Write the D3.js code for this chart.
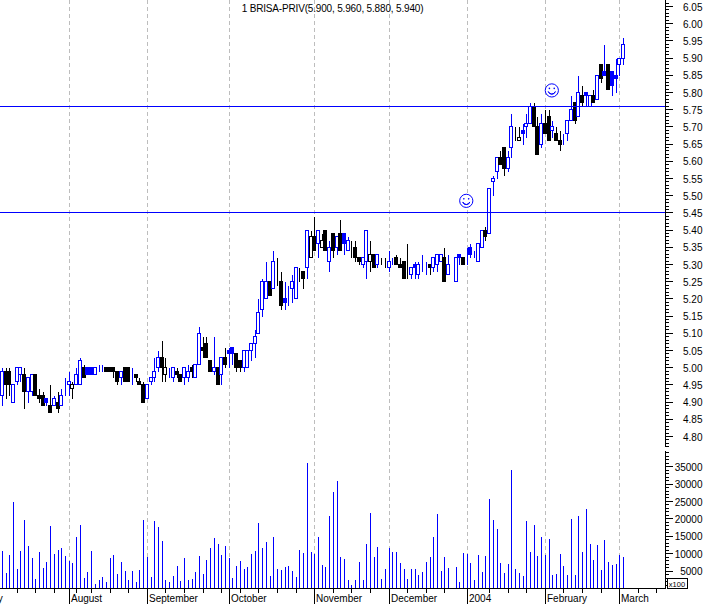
<!DOCTYPE html>
<html>
<head>
<meta charset="utf-8">
<style>
html,body{margin:0;padding:0;background:#fff;overflow:hidden}
svg{display:block}
text{font-family:"Liberation Sans",Arial,sans-serif;font-size:10px;fill:#000}
</style>
<script src="https://cdn.jsdelivr.net/npm/d3@7/dist/d3.min.js"></script>
</head>
<body>
<script>
const titleText = "1 BRISA-PRIV(5.900, 5.960, 5.880, 5.940)";
const opens = [4.92,4.99,4.99,4.90,4.96,4.98,4.98,4.93,4.93,4.98,4.92,4.92,4.91,4.89,4.89,4.90,4.89,4.94,4.95,4.94,
4.95,4.95,5.00,5.00,5.00,4.98,5.00,5.00,5.00,5.00,5.00,4.99,4.97,5.00,5.00,4.98,4.98,4.96,4.95,4.91,
4.96,4.97,5.00,5.03,4.98,4.97,4.97,4.99,4.98,4.97,4.97,5.00,4.97,5.01,5.06,5.07,5.02,4.99,5.00,4.98,
5.03,5.05,5.06,5.04,5.02,5.00,5.00,5.05,5.07,5.10,5.17,5.20,5.25,5.23,5.25,5.25,5.20,5.20,5.23,5.20,
5.27,5.28,5.29,5.32,5.38,5.36,5.35,5.40,5.31,5.39,5.35,5.39,5.39,5.34,5.35,5.35,5.32,5.30,5.31,5.31,
5.33,5.30,5.31,5.31,5.29,5.31,5.32,5.30,5.31,5.26,5.27,5.30,5.27,5.30,5.30,5.30,5.29,5.30,5.31,5.32,
5.27,5.31,5.25,5.33,5.32,5.32,5.35,5.33,5.31,5.35,5.40,5.39,5.54,5.57,5.61,5.64,5.58,5.64,5.70,5.66,
5.69,5.70,5.71,5.76,5.70,5.65,5.71,5.73,5.69,5.68,5.66,5.67,5.68,5.72,5.77,5.73,5.79,5.80,5.76,5.79,
5.78,5.88,5.86,5.88,5.86,5.85,5.88,5.90];
const highs = [5.00,5.00,5.00,4.95,5.00,5.00,5.00,4.97,4.98,4.98,4.94,4.93,4.91,4.95,4.92,4.93,4.94,4.97,4.99,4.96,
5.00,5.03,5.01,5.00,5.00,5.00,5.01,5.01,5.00,5.00,5.00,4.99,4.99,5.00,5.00,5.00,4.98,4.97,4.96,4.95,
4.97,5.03,5.05,5.08,5.03,5.00,5.00,5.00,4.98,5.00,5.01,5.01,5.01,5.12,5.09,5.09,5.02,5.09,5.00,5.03,
5.06,5.06,5.06,5.04,5.02,5.05,5.05,5.07,5.11,5.20,5.26,5.31,5.25,5.34,5.32,5.28,5.25,5.24,5.27,5.29,
5.29,5.28,5.40,5.40,5.44,5.40,5.39,5.40,5.37,5.39,5.38,5.43,5.39,5.38,5.37,5.37,5.32,5.32,5.40,5.37,
5.33,5.33,5.32,5.32,5.34,5.32,5.33,5.32,5.31,5.36,5.29,5.31,5.31,5.33,5.31,5.30,5.32,5.33,5.33,5.35,
5.33,5.31,5.32,5.33,5.32,5.35,5.36,5.34,5.36,5.40,5.41,5.52,5.56,5.61,5.63,5.64,5.63,5.74,5.70,5.70,
5.71,5.74,5.77,5.77,5.73,5.74,5.75,5.75,5.72,5.70,5.69,5.68,5.72,5.79,5.77,5.85,5.82,5.80,5.79,5.81,
5.85,5.88,5.94,5.88,5.86,5.90,5.90,5.96];
const lows = [4.89,4.91,4.92,4.90,4.95,4.96,4.88,4.90,4.92,4.92,4.90,4.89,4.89,4.87,4.89,4.87,4.89,4.92,4.92,4.91,
4.95,4.95,4.97,4.98,4.98,4.98,4.99,4.99,4.99,4.99,4.97,4.95,4.95,4.96,4.96,4.95,4.96,4.95,4.90,4.91,
4.95,4.96,4.99,4.96,4.96,4.97,4.96,4.97,4.96,4.95,4.96,4.97,4.97,5.01,5.03,5.03,4.99,4.98,4.95,4.95,
5.00,5.00,5.01,4.99,4.99,4.99,5.00,5.02,5.03,5.10,5.15,5.20,5.21,5.23,5.24,5.17,5.17,5.18,5.19,5.20,
5.25,5.23,5.26,5.32,5.34,5.32,5.35,5.34,5.28,5.32,5.33,5.34,5.33,5.34,5.32,5.31,5.30,5.29,5.26,5.28,
5.29,5.29,5.30,5.29,5.28,5.30,5.30,5.29,5.26,5.26,5.26,5.26,5.26,5.28,5.27,5.27,5.28,5.28,5.31,5.25,
5.27,5.31,5.25,5.30,5.30,5.30,5.32,5.32,5.31,5.35,5.37,5.39,5.50,5.55,5.59,5.56,5.57,5.61,5.66,5.66,
5.65,5.67,5.71,5.70,5.62,5.64,5.68,5.66,5.67,5.66,5.63,5.65,5.66,5.72,5.71,5.73,5.76,5.76,5.76,5.77,
5.78,5.83,5.85,5.81,5.79,5.80,5.85,5.88];
const closes = [4.99,4.95,4.95,4.95,5.00,5.00,4.93,4.97,4.98,4.92,4.91,4.89,4.90,4.87,4.91,4.88,4.92,4.94,4.96,4.95,
4.98,5.02,4.97,4.98,4.98,5.00,5.00,5.00,4.99,4.99,4.99,4.96,4.99,4.96,4.96,4.98,4.97,4.95,4.90,4.95,
4.97,4.99,5.03,5.00,5.00,4.97,5.00,4.98,4.96,5.00,4.99,4.99,5.01,5.10,5.05,5.03,4.99,5.00,4.95,5.03,
5.01,5.04,5.04,5.00,5.00,5.05,5.05,5.07,5.09,5.16,5.25,5.25,5.21,5.31,5.25,5.18,5.19,5.20,5.25,5.29,
5.27,5.26,5.40,5.38,5.34,5.40,5.37,5.34,5.35,5.34,5.38,5.34,5.36,5.37,5.35,5.32,5.31,5.32,5.40,5.33,
5.29,5.33,5.31,5.31,5.31,5.31,5.30,5.29,5.26,5.26,5.29,5.29,5.30,5.30,5.30,5.29,5.32,5.33,5.33,5.25,
5.30,5.31,5.32,5.32,5.30,5.32,5.33,5.33,5.36,5.40,5.38,5.52,5.55,5.61,5.59,5.58,5.61,5.70,5.70,5.67,
5.68,5.71,5.76,5.70,5.62,5.71,5.68,5.66,5.70,5.66,5.65,5.67,5.72,5.75,5.72,5.80,5.77,5.79,5.79,5.77,
5.85,5.84,5.85,5.81,5.82,5.84,5.90,5.94];
// 1 = blue bar, 0 = black bar
const tones = [1,0,0,1,1,1,0,1,1,0,0,0,1,0,1,0,1,1,1,0,
1,1,0,1,1,1,1,1,0,0,0,0,1,0,0,1,0,0,0,1,
1,1,1,0,0,1,1,0,0,1,1,0,1,1,0,0,0,1,0,1,
0,1,1,0,0,1,1,1,1,1,1,1,0,1,0,0,1,1,1,1,
0,0,1,0,0,1,0,0,1,0,1,0,1,1,0,0,0,1,1,0,
0,1,0,0,1,1,0,0,0,0,1,1,1,1,1,0,1,1,1,0,
1,1,1,1,0,1,1,1,1,1,0,1,1,1,0,0,1,1,0,0,
1,1,1,0,0,1,0,0,1,0,0,1,1,1,0,1,0,1,1,0,
1,0,1,0,1,1,1,1];
const volumes = [10730,4400,9580,24800,5560,10730,19640,12170,8720,2680,10440,5840,7570,17910,9870,11020,11590,9290,7860,7280,
14750,18200,2970,4690,10730,1250,2400,3260,1820,8720,9580,4120,7570,4980,2400,4980,1820,5270,19640,9010,
3260,19350,17630,13600,2400,1820,3540,6420,2110,8720,2400,2680,4690,9290,4120,8140,11590,14470,12740,9580,
12170,8720,2970,6420,7860,5560,6130,9870,10730,18780,11590,13320,3540,14750,5560,5270,6130,6420,4980,3260,
11020,10150,36020,10440,9870,14750,6710,6130,20790,27690,30850,9010,8430,2400,960,2400,7570,2400,12740,21650,
9010,11880,2680,5560,11590,10440,10440,7280,5560,2680,5560,5560,3830,4690,7570,9010,14750,21360,4980,9010,
5840,0,6130,1820,10150,9870,7280,2400,9580,4690,9290,25670,19640,17050,7280,4400,6990,34010,5560,4400,
3540,19350,10440,18200,9290,14750,9580,14180,3830,4120,9870,6420,3830,19930,3830,20790,10440,22800,12740,8140,
12450,5270,13890,7570,6710,6990,9580,9010];
const monthNames = ["July","August","September","October","November","December","2004","February","March"];
const monthBars = [-5,18,39,61,84,104,125,146,166];
const weekBars = [4,9,14,20,24,29,34,44,49,54,59,64,69,74,79,89,94,99,109,114,119,131,136,141,151,156,161,171,176];
const levelPrices = [5.45,5.76];
const smileBars = [125,148];
const smilePrices = [5.485,5.806];
const priceLabels = [6.05,6.00,5.95,5.90,5.85,5.80,5.75,5.70,5.65,5.60,5.55,5.50,5.45,5.40,5.35,5.30,5.25,5.20,5.15,5.10,5.05,5.00,4.95,4.90,4.85,4.80];
const priceMinor = d3.range(477,607).map(d=>d/100);
const volumeLabels = [35000,30000,25000,20000,15000,10000,5000];
const volumeMinor = d3.range(1000,40000,1000);

const W=705,H=604,axisX=665,blue="#0000ff",black="#000";
const svg=d3.select("body").append("svg").attr("width",W).attr("height",H);
svg.append("rect").attr("width",W).attr("height",H).attr("fill","#fff");

const x=d3.scaleLinear().domain([0,167]).range([2.3,623.5]);
const y=d3.scaleLinear().domain([4.77,6.07]).range([446.8,-0.4]);
const v=d3.scaleLinear().domain([0,39500]).range([588.5,451]);
const px=i=>Math.floor(x(i));
const py=p=>Math.floor(y(p))+0.5;

// month guides
const chart=svg.append("g");
chart.selectAll("line.guide").data(monthBars.slice(1)).join("line").attr("class","guide")
  .attr("x1",d=>px(d)+.5).attr("x2",d=>px(d)+.5).attr("y1",0).attr("y2",588)
  .attr("stroke","#bdbdbd").attr("stroke-dasharray","4 3").attr("shape-rendering","crispEdges");

// title
svg.append("text").attr("x",332.5).attr("y",12).attr("text-anchor","middle")
  .style("letter-spacing","-0.17px").text(titleText);

// candles
const bars=d3.range(opens.length).map(i=>({i,o:opens[i],h:highs[i],l:lows[i],c:closes[i],t:tones[i]}));
const candle=chart.append("g").attr("shape-rendering","crispEdges").selectAll("g").data(bars).join("g");
candle.append("line")
  .attr("x1",d=>px(d.i)+.5).attr("x2",d=>px(d.i)+.5)
  .attr("y1",d=>py(d.h)).attr("y2",d=>py(d.l)+.5)
  .attr("stroke",d=>d.t?blue:black);
candle.append("rect")
  .attr("x",d=>px(d.i)-1.5)
  .attr("width",3)
  .attr("y",d=>py(Math.max(d.o,d.c)))
  .attr("height",d=>Math.abs(py(d.o)-py(d.c)))
  .attr("fill",d=>d.c<d.o?(d.t?blue:black):"#fff")
  .attr("stroke",d=>d.t?blue:black);

// horizontal levels
chart.selectAll("line.level").data(levelPrices).join("line").attr("class","level")
  .attr("x1",0).attr("x2",axisX).attr("y1",d=>py(d)).attr("y2",d=>py(d))
  .attr("stroke",blue).attr("shape-rendering","crispEdges");

// smileys
const smile=chart.selectAll("g.smile").data(smileBars.map((b,k)=>({b,p:smilePrices[k]}))).join("g").attr("class","smile")
  .attr("transform",d=>`translate(${x(d.b)-1},${y(d.p)})`)
  .attr("fill","none").attr("stroke",blue);
smile.append("circle").attr("r",6.6).attr("fill","#fff");
smile.append("path").attr("d",d3.arc()({innerRadius:3.7,outerRadius:3.7,startAngle:Math.PI*0.6,endAngle:Math.PI*1.4}));
smile.selectAll("circle.eye").data([-2.4,2.4]).join("circle").attr("class","eye").attr("cx",d=>d).attr("cy",-2).attr("r",.8).attr("fill",blue).attr("stroke","none");

// volume bars
chart.append("g").attr("shape-rendering","crispEdges").selectAll("line").data(volumes.map((val,i)=>({val,i})).filter(d=>d.val>0)).join("line")
  .attr("x1",d=>px(d.i)+.5).attr("x2",d=>px(d.i)+.5)
  .attr("y1",d=>Math.round(v(d.val))).attr("y2",588)
  .attr("stroke",blue);

// baseline + month / week ticks
const base=svg.append("g").attr("shape-rendering","crispEdges");
base.append("line").attr("x1",0).attr("x2",axisX).attr("y1",588.5).attr("y2",588.5).attr("stroke",black);
base.selectAll("line.week").data(weekBars).join("line").attr("class","week")
  .attr("x1",d=>px(d)+.5).attr("x2",d=>px(d)+.5).attr("y1",588).attr("y2",593).attr("stroke",black);
base.selectAll("line.month").data(monthBars).join("line").attr("class","month")
  .attr("x1",d=>px(d)+.5).attr("x2",d=>px(d)+.5).attr("y1",588).attr("y2",604).attr("stroke",black);
svg.selectAll("text.month").data(monthNames).join("text").attr("class","month")
  .attr("x",(d,k)=>px(monthBars[k])+2).attr("y",602).text(d=>d);

// right axes
function rightAxis(scale,minor,major,fmt){
  const gMinor=svg.append("g").attr("transform",`translate(${axisX+.5},0)`).attr("shape-rendering","crispEdges")
    .call(d3.axisRight(scale).offset(0).tickValues(minor).tickSize(3).tickSizeOuter(0).tickFormat(""));
  const gMajor=svg.append("g").attr("transform",`translate(${axisX+.5},0)`).attr("shape-rendering","crispEdges")
    .call(d3.axisRight(scale).offset(0).tickValues(major).tickSize(7).tickSizeOuter(0).tickFormat(fmt));
  gMajor.select(".domain").remove();
  gMajor.selectAll("text").attr("x",37).attr("dy","0.42em").attr("text-anchor","end").attr("font-family",null).attr("font-size",null);
  [gMinor,gMajor].forEach(g=>g.selectAll("line,path").attr("stroke",black));
}
rightAxis(y,priceMinor,priceLabels,d3.format(".2f"));
rightAxis(v,volumeMinor,volumeLabels,d3.format("d"));

// x100 unit box
svg.append("rect").attr("x",667.5).attr("y",578.5).attr("width",20).attr("height",10)
  .attr("fill","#fff").attr("stroke",black).attr("shape-rendering","crispEdges");
svg.append("text").attr("x",668.8).attr("y",586.5).style("font-size","7.5px").text("x100");
</script>
</body>
</html>
